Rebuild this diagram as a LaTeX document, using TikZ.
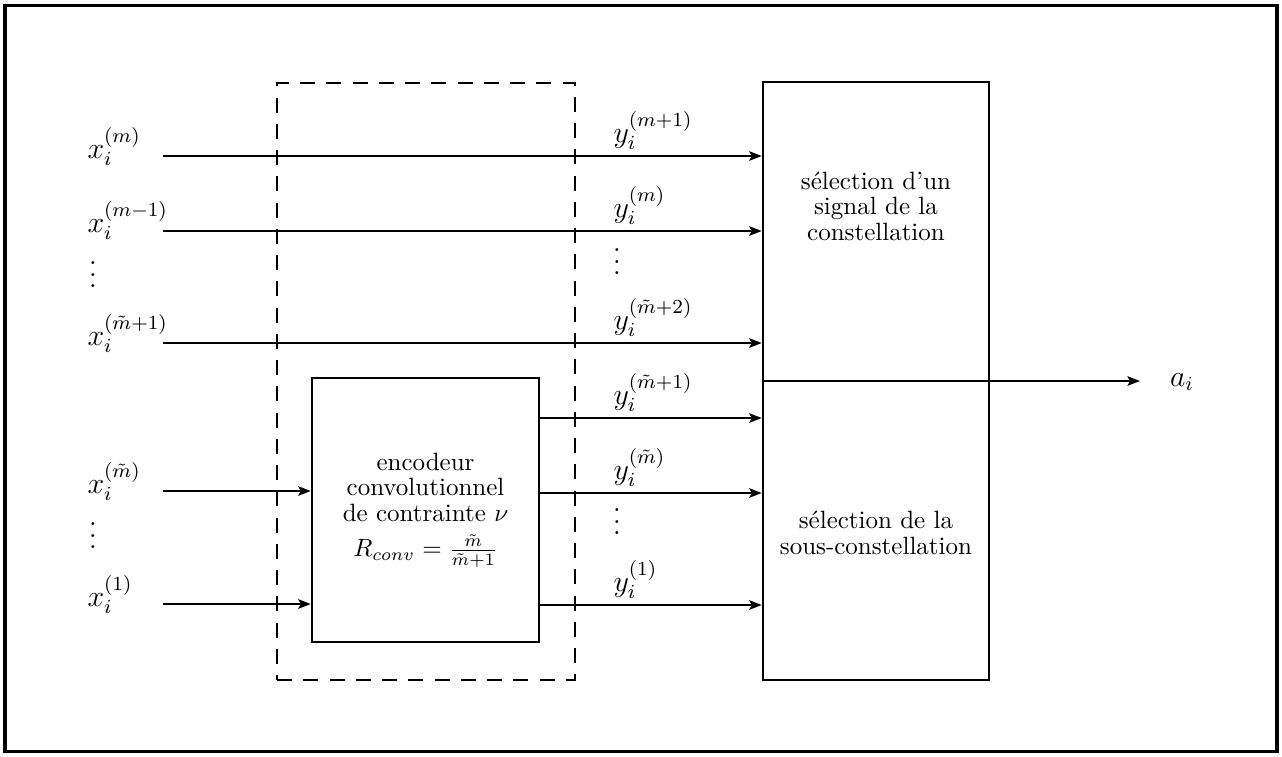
\documentclass[tikz,border=0pt]{standalone}
\usepackage{fontspec}
\usepackage{amsmath}
\usetikzlibrary{arrows.meta}
\newcommand{\vdotsb}{\vbox{\baselineskip=4.6pt\lineskiplimit=0pt\hbox{.}\hbox{.}\hbox{.}}}
\begin{document}
\begin{tikzpicture}[x=0.4pt,y=-0.4pt,
  lbl/.style={anchor=base west,inner sep=0pt,font=\large},
  dotsnode/.style={inner sep=0pt,font=\large},
  sig/.style={line width=0.8pt,-{Stealth[length=5pt,width=3.8pt,inset=1pt]}},
  blk/.style={draw,line width=1pt,inner sep=0pt},
  grp/.style={draw,line width=1.15pt,dash pattern=on 6pt off 4.5pt,inner sep=0pt},
  txt/.style={align=center,inner sep=0pt,font=\fontsize{10}{10.2}\selectfont},
  frame/.style={draw,line width=1.3pt,inner sep=0pt}]
\useasboundingbox (0,0) rectangle (1282,756);
% outer frame
\node[frame,minimum width=508.8pt,minimum height=298.4pt] (outer) at (641,378.5) {};
% dashed group
\node[grp,minimum width=119.2pt,minimum height=238.8pt] (group) at (426,381.5) {};
% selection block
\node[blk,minimum width=90.4pt,minimum height=239.2pt] (sel) at (876,381) {};
% encoder (with its text)
\node[blk,txt,minimum width=90.8pt,minimum height=105.6pt] (enc) at (425.5,510)
  {encodeur\\convolutionnel\\de contrainte $\nu$\\[4pt]$R_{conv}=\frac{\tilde{m}}{\tilde{m}+1}$};
\node[txt] (seltop) at (876,206) {sélection d'un\\signal de la\\constellation};
\node[txt] (selbot) at (876,533) {sélection de la\\sous-constellation};
% input starts
\coordinate (xs1) at (163,156);
\coordinate (xs2) at (163,231);
\coordinate (xs3) at (163,343);
\coordinate (xs4) at (163,491);
\coordinate (xs5) at (163,604);
\coordinate (yr1) at (650,418);
\coordinate (yr2) at (650,493);
\coordinate (yr3) at (650,605);
\coordinate (aend) at (1140,381);
% input labels
\node[lbl] (lx1) at (87,158) {$x_i^{(m)}$};
\node[lbl] (lx2) at (87,232) {$x_i^{(m-1)}$};
\node[lbl] (lx3) at (87,345) {$x_i^{(\tilde{m}+1)}$};
\node[lbl] (lx4) at (87,493) {$x_i^{(\tilde{m})}$};
\node[lbl] (lx5) at (87,606) {$x_i^{(1)}$};
\node[dotsnode] (dx1) at (93,275) {\vdotsb};
\node[dotsnode] (dx2) at (93,536) {\vdotsb};
% output labels
\node[lbl] (ly1) at (613,142) {$y_i^{(m+1)}$};
\node[lbl] (ly2) at (613,217) {$y_i^{(m)}$};
\node[lbl] (ly3) at (613,329) {$y_i^{(\tilde{m}+2)}$};
\node[lbl] (ly4) at (613,404) {$y_i^{(\tilde{m}+1)}$};
\node[lbl] (ly5) at (613,479) {$y_i^{(\tilde{m})}$};
\node[lbl] (ly6) at (613,591) {$y_i^{(1)}$};
\node[dotsnode] (dy1) at (617,262) {\vdotsb};
\node[dotsnode] (dy2) at (617,522) {\vdotsb};
\node[inner sep=0pt,font=\large] (ai) at (1182,382) {$a_i$};
% connectors
\draw[sig] (xs1) -- (xs1 -| sel.west);
\draw[sig] (xs2) -- (xs2 -| sel.west);
\draw[sig] (xs3) -- (xs3 -| sel.west);
\draw[sig] (xs4) -- (xs4 -| enc.west);
\draw[sig] (xs5) -- (xs5 -| enc.west);
\draw[sig] (yr1 -| enc.east) -- (yr1 -| sel.west);
\draw[sig] (yr2 -| enc.east) -- (yr2 -| sel.west);
\draw[sig] (yr3 -| enc.east) -- (yr3 -| sel.west);
\draw[sig] (sel.west) -- (aend);
\end{tikzpicture}
\end{document}
